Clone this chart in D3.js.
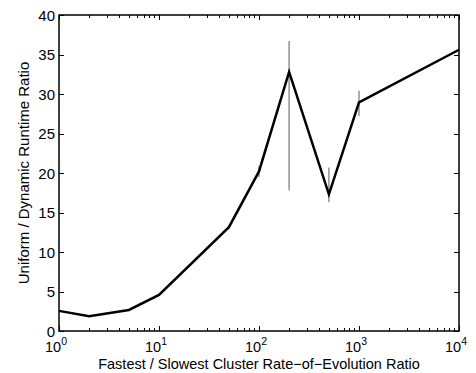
<!DOCTYPE html>
<html>
<head>
<meta charset="utf-8">
<script src="https://cdn.jsdelivr.net/npm/d3@7"></script>
<style>
  body { margin: 0; background: #fff; }
  text { font-family: "Liberation Sans", Arial, Helvetica, sans-serif; fill: #000; }
</style>
</head>
<body>
<div id="chart"></div>
<script>
// rate-of-evolution ratios (x) and runtime ratios (y)
const ratios = [1, 2, 5, 10, 50, 100, 200, 500, 1000, 10000];
const runtimeRatio = [2.55, 1.86, 2.66, 4.56, 13.15, 20.2, 32.8, 17.3, 28.95, 35.6];
const errLow = [null, null, null, null, 12.9, 19.5, 17.8, 16.3, 27.2, null];
const errHigh = [null, null, null, null, 13.4, 20.9, 36.7, 20.7, 30.4, null];
const yTicks = [0, 5, 10, 15, 20, 25, 30, 35, 40];
const xDecades = [0, 1, 2, 3, 4];

const width = 476, height = 373;
const margin = {top: 15, right: 17, bottom: 42, left: 59};
const w = width - margin.left - margin.right;
const h = height - margin.top - margin.bottom;

const svg = d3.select("#chart").append("svg")
    .attr("width", width)
    .attr("height", height);
const g = svg.append("g")
    .attr("transform", `translate(${margin.left},${margin.top})`);

const x = d3.scaleLog().domain([1, 10000]).range([0, w]);
const y = d3.scaleLinear().domain([0, 40]).range([h, 0]);

// minor + major ticks on log axis
let xMinor = [];
xDecades.slice(0, -1).forEach(e => {
    for (let k = 2; k <= 9; k++) xMinor.push(k * Math.pow(10, e));
});
const xMajor = xDecades.map(e => Math.pow(10, e));

const ticks = g.append("g").attr("stroke", "#000").attr("stroke-width", 1);
xMajor.forEach(v => {
    const px = Math.round(x(v)) + 0.5;
    ticks.append("line").attr("x1", px).attr("x2", px).attr("y1", h).attr("y2", h - 5);
    ticks.append("line").attr("x1", px).attr("x2", px).attr("y1", 0).attr("y2", 5);
});
xMinor.forEach(v => {
    const px = Math.round(x(v)) + 0.5;
    ticks.append("line").attr("x1", px).attr("x2", px).attr("y1", h).attr("y2", h - 3);
    ticks.append("line").attr("x1", px).attr("x2", px).attr("y1", 0).attr("y2", 3);
});
yTicks.forEach(v => {
    const py = Math.round(y(v)) + 0.5;
    ticks.append("line").attr("x1", 0).attr("x2", 5).attr("y1", py).attr("y2", py);
    ticks.append("line").attr("x1", w).attr("x2", w - 5).attr("y1", py).attr("y2", py);
});

// box
g.append("rect")
    .attr("x", 0).attr("y", 0)
    .attr("width", w).attr("height", h)
    .attr("fill", "none")
    .attr("stroke", "#000")
    .attr("stroke-width", 1.5);

// y tick labels
g.selectAll(".ylab").data(yTicks).enter().append("text")
    .attr("class", "ylab")
    .attr("x", -4)
    .attr("y", d => y(d) + 5.5)
    .attr("text-anchor", "end")
    .attr("font-size", 15)
    .text(d => d);

// x tick labels: 10^e
xDecades.forEach(e => {
    const t = g.append("text")
        .attr("x", x(Math.pow(10, e)) - 3)
        .attr("y", h + 21)
        .attr("text-anchor", "middle")
        .attr("font-size", 14.5);
    t.append("tspan").text("10");
    t.append("tspan").attr("dy", -7).attr("font-size", 10.5).text(e);
});

// error bars
const bars = ratios.map((r, i) => ({r: r, lo: errLow[i], hi: errHigh[i]})).filter(d => d.lo !== null);
g.selectAll(".err").data(bars).enter().append("line")
    .attr("class", "err")
    .attr("x1", d => x(d.r)).attr("x2", d => x(d.r))
    .attr("y1", d => y(d.lo)).attr("y2", d => y(d.hi))
    .attr("stroke", "#777")
    .attr("stroke-width", 1.2);

// main line
const line = d3.line()
    .x((d, i) => x(ratios[i]))
    .y(d => y(d));
g.append("path")
    .datum(runtimeRatio)
    .attr("d", line)
    .attr("fill", "none")
    .attr("stroke", "#000")
    .attr("stroke-width", 2.5)
    .attr("stroke-linejoin", "miter");

// axis labels
svg.append("text")
    .attr("x", margin.left + w / 2)
    .attr("y", 369)
    .attr("text-anchor", "middle")
    .attr("font-size", 14.5)
    .text("Fastest / Slowest Cluster Rate\u2212of\u2212Evolution Ratio");

svg.append("text")
    .attr("transform", `translate(29,${margin.top + h / 2}) rotate(-90)`)
    .attr("text-anchor", "middle")
    .attr("font-size", 15)
    .text("Uniform / Dynamic Runtime Ratio");
</script>
</body>
</html>
